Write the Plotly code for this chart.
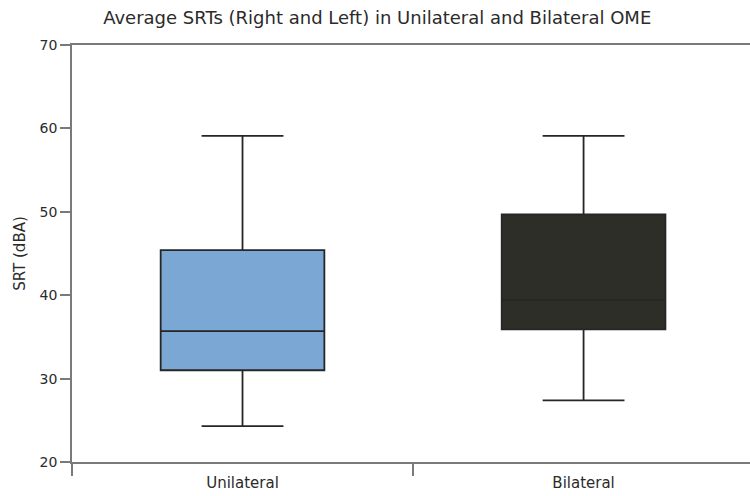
import plotly.graph_objects as go

# Summary statistics of averaged speech reception thresholds (dBA)
groups = ["Unilateral", "Bilateral"]
upper_whisker = [59.1, 59.1]
q3 = [45.4, 49.7]
median = [35.7, 39.4]
q1 = [31.0, 35.9]
lower_whisker = [24.3, 27.4]
fill_colors = ["#7BA7D4", "#2E2E29"]

y_ticks = [20, 30, 40, 50, 60, 70]

fig = go.Figure()
for i, g in enumerate(groups):
    fig.add_trace(go.Box(
        x=[g],
        q1=[q1[i]], median=[median[i]], q3=[q3[i]],
        lowerfence=[lower_whisker[i]], upperfence=[upper_whisker[i]],
        fillcolor=fill_colors[i],
        line=dict(color="#262626", width=1.8),
        width=0.48,
        whiskerwidth=0.5,
        boxpoints=False,
        hoverinfo="skip",
        showlegend=False,
    ))

font_family = "DejaVu Sans"
text_color = "#2b2b2b"
fig.update_layout(
    width=750, height=496,
    margin=dict(l=72, r=0, t=45, b=34),
    paper_bgcolor="white", plot_bgcolor="white",
    font=dict(family=font_family, size=14, color=text_color),
    title=dict(
        text="Average SRTs (Right and Left) in Unilateral and Bilateral OME",
        x=0.503, xanchor="center", y=0.964, yanchor="middle",
        font=dict(family=font_family, size=18, color=text_color),
    ),
)
fig.update_xaxes(
    type="category",
    categoryorder="array", categoryarray=groups,
    range=[-0.5, 1.488],
    showline=True, linecolor="#7a7a7a", linewidth=1.6,
    mirror=True,
    ticks="outside", tickson="boundaries", ticklen=12, tickwidth=1.6,
    tickcolor="#7a7a7a",
    ticklabelstandoff=6,
    showgrid=False, zeroline=False,
    tickfont=dict(family=font_family, size=15, color=text_color),
)
fig.update_yaxes(
    range=[20, 70],
    tickvals=y_ticks,
    showline=True, linecolor="#7a7a7a", linewidth=1.6,
    ticks="outside", ticklen=10, tickwidth=1.6, tickcolor="#7a7a7a",
    showgrid=False, zeroline=False,
    title=dict(text="SRT (dBA)", standoff=10,
               font=dict(family=font_family, size=15, color=text_color)),
    tickfont=dict(family=font_family, size=14, color=text_color),
)

fig.write_html("out.html")
